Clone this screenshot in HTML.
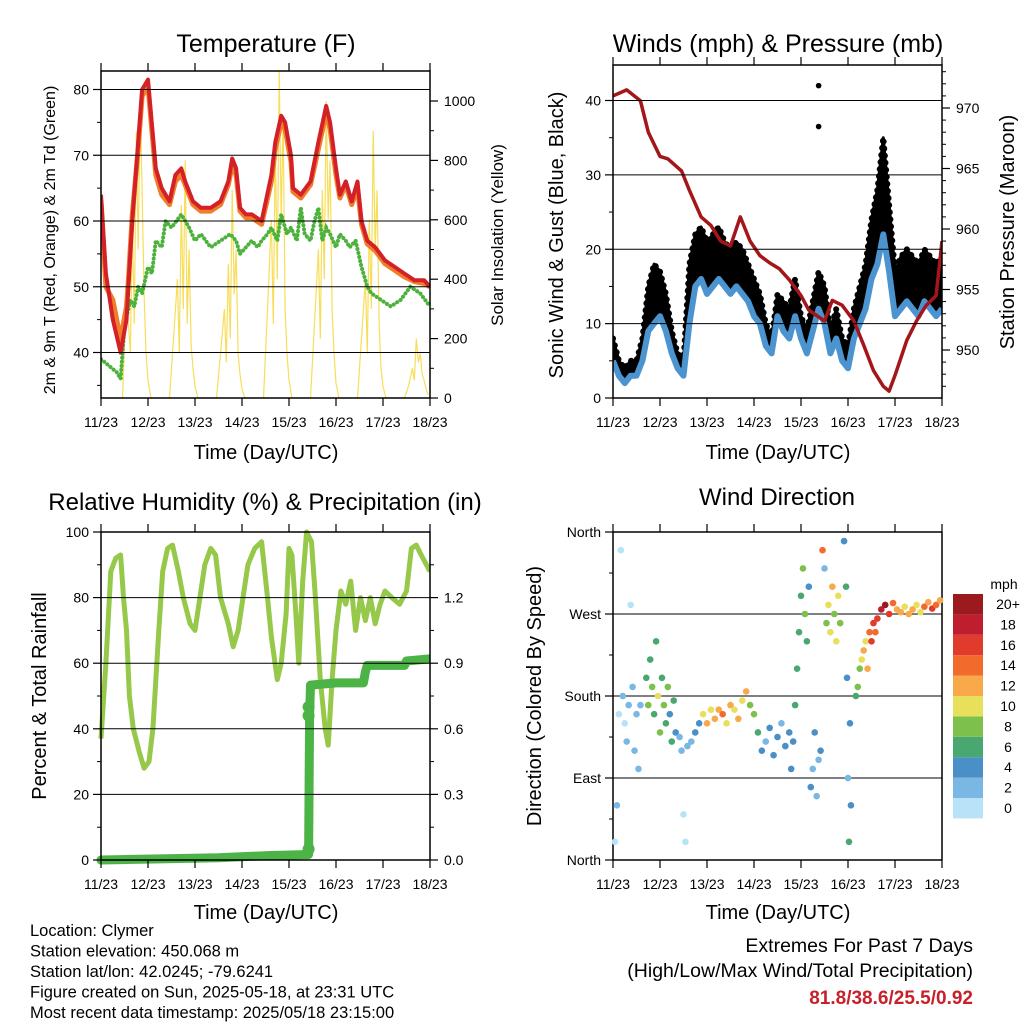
<!DOCTYPE html>
<html><head><meta charset="utf-8"><style>
body{margin:0;background:#fff}
svg{display:block;font-family:"Liberation Sans",sans-serif}
</style></head><body>
<svg id="fig" width="1024" height="1024" viewBox="0 0 1024 1024"></svg>
<script>
// ---------- DATA ----------
const dayLabels=["11/23","12/23","13/23","14/23","15/23","16/23","17/23","18/23"];
const tHours=[0,2.5,6,10,13,14,16,19,21,24,25,28,31,35,38,41,43,47,51,56,61,65,67,69,71,74,77,82,87,89,92,94,97,98,102,107,111,115,117,120,122,125,128,131,133,136,140,145,150,155,160,165,168];
const tRed=[64,52,45,40,45,50,60,72,80,81.5,78,68,65,63,67,68,66,63,62,62,63,66,69.5,68,62,61,61,60,67,72,76,75,70,65,64,66,72,77.5,75,68,64,66,63,66,60,57,56,54,53,52,51,51,50];
const tOrange=[63,50,48,42,47,51,61,71,79,80.5,77,67,64,62.5,66,67,65.5,62.5,61.5,61.5,62.5,65.5,68.5,67,61.5,60.5,60.5,59.5,66,71,75,74,69,64.5,63.5,65.5,71,76.5,74,67,63.5,65.5,62.5,65,59.5,56.5,55.5,53.5,52.5,51.5,50.8,50.5,50];
const tdHours=[0,4,8,10,12,15,17,19,21,24,26,28,31,33,36,41,45,48,51,56,61,66,69,71,74,77,80,82,85,87,90,92,95,97,100,102,104,107,109,111,113,115,117,120,122,125,127,130,133,136,138,143,148,153,158,163,168];
const tdGreen=[39,38,37,36,44,48,47,50,49,53,52,57,56,60,59,61,59,57,58,56,57,58,57,55,56,57,56,57,58,59,57,61,58,59,57,62,58,57,60,62,57,59,58,56,58,57,56,57,53,50,49,48,47,48,50,49,47];
const solHours=[0,11,13,15,16,17,18,19,20,21,22,23,24,25.5,35,37,39,40,41,42,43,44,45,46,47,48,49.5,59,61,63,64,65,66,67,68,69,70,71,72,73.5,83,85,87,88,89,90,91,92,93,94,95,96,97.5,107,109,111,112,113,114,115,116,117,118,119,120,121.5,131,133,135,136,137,138,139,140,141,142,143,144,145.5,155,157,159,160,161,162,163,164,165,166,167,168];
const solVal=[0,0,350,150,600,250,900,500,1000,700,350,150,60,0,0,200,400,150,650,300,800,250,500,180,100,40,0,0,150,300,120,450,200,700,350,500,150,80,30,0,0,300,600,250,850,400,1100,600,950,300,150,60,0,0,250,500,200,700,400,1000,600,800,300,150,50,0,0,200,400,150,600,300,900,500,700,250,100,40,0,0,40,100,60,200,120,150,80,60,30,10];
const wHours=[0,3,6,9,12,15,18,21,24,27,30,33,36,39,42,45,48,51,54,57,60,63,66,69,72,75,78,81,84,87,90,93,96,99,102,105,108,111,114,117,120,123,126,129,132,135,138,141,144,147,150,153,156,159,162,165,168];
const windSpd=[5,3,2,3,3,5,9,10,11,9,6,4,3,10,15,16,14,15,16,15,14,15,14,13,11,10,7,6,11,9,8,11,8,6,9,12,10,6,8,5,4,8,10,12,16,18,22,17,11,12,13,12,11,13,12,11,12];
const gustSpd=[8,5,4,5,5,8,15,18,17,14,9,6,5,18,22,23,21,22,23,21,20,21,20,18,16,14,10,8,14,13,12,16,11,9,13,17,15,9,12,8,7,12,15,18,24,28,35,26,17,19,20,19,18,20,19,18,19];
const gustOutHours=[105,105];
const gustOutVal=[42,36.5];
const pHours=[0,7,14,18,24,28,35,39,45,50,55,60,65,70,75,80,85,90,96,100,108,112,117,123,128,133,138,141,144,150,155,160,165,168];
const pres=[971,971.5,970.6,968,966,965.8,964.8,963.2,961,960.3,959,958.6,961,959,957.8,957.2,956.7,955.8,954.5,953.3,952.4,954.1,953.7,952.4,950.4,948.3,947,946.6,947.9,950.8,952.4,953.7,954.5,959];
const rhHours=[0,2.5,5,7.5,10,11.5,13,14.5,16.5,19.5,22,24.5,26.5,29.5,31.5,34,36.5,39.5,42,45.5,48,50.5,53,56,58.5,61,65,67.5,70,72.5,75,78.5,82,85,87,90,92,94.5,96,97.5,99.5,101,103,105,107.5,109.5,112,114.5,116,118,120,122.5,125,127.5,130,132.5,135,137.5,140,142.5,145,148.5,152.5,156,158.5,161,163.5,168];
const rh=[37,60,88,92,93,80,70,50,40,33,28,30,40,70,88,95,96,88,80,72,70,80,90,95,93,80,72,65,70,80,90,95,97,80,68,55,60,75,95,93,75,60,85,100,97,80,55,40,35,55,70,82,78,85,70,80,73,80,72,78,82,80,78,82,95,96,93,88];
const prHours=[0,30,60,85,106,106.5,107,120,134,135,136,155,156,168];
const precip=[0,0.005,0.01,0.02,0.025,0.66,0.80,0.81,0.81,0.86,0.89,0.89,0.91,0.92];
const prDotHours=[106,106,106];
const prDotVal=[0.05,0.66,0.70];
const dHours=[1,2,3,4,5,6,7,8,9,10,11,12,13,14,17,18,19,20,21,22,23,24,25,26,27,28,29,30,31,32,34,35,36,37,38,40,42,44,46,48,50,52,54,56,58,60,62,64,66,68,70,72,74,76,78,80,82,84,86,88,90,91,92,93,94,95,96,97,98,99,100,101,102,103,104,105,106,107,108,109,110,111,112,113,114,115,116,118,119,119.5,120,120.5,121,121.5,124,125,126,127,128,129,130,131,132,133,134,135,137,139,141,143,145,147,149,151,153,155,157,159,161,163,165,167];
const dDir=[20,60,160,340,180,150,130,170,280,190,120,160,100,170,200,170,220,190,160,240,180,140,200,170,150,190,160,130,175,140,135,120,50,20,125,130,140,150,160,150,165,155,165,160,150,170,165,155,175,185,170,160,140,120,130,145,115,135,150,125,140,100,130,170,210,250,290,320,270,240,300,80,100,140,70,110,120,340,320,260,280,250,300,270,240,290,260,350,300,200,90,20,150,60,180,190,210,220,230,240,210,250,240,260,250,265,275,280,270,282,275,272,278,270,275,280,272,278,283,276,280,285];
const dSpd=[1,2,1,0,2,1,3,2,1,2,3,2,2,3,7,8,6,9,7,6,10,8,7,9,6,8,5,6,7,4,3,2,1,1,3,2,4,5,11,12,10,13,12,14,11,13,10,12,11,12,9,8,6,4,3,4,5,4,3,4,5,4,5,6,7,6,7,8,9,6,5,4,3,4,2,3,4,14,2,9,11,10,12,8,10,11,9,5,6,4,3,6,4,4,7,9,8,11,12,10,13,15,16,17,15,16,18,20,17,14,12,13,11,12,13,10,11,14,13,16,14,12];
const speedBinLabels=["0","2","4","6","8","10","12","14","16","18","20+"];
const speedColors=["#b7e2f7","#7ab8e3","#4a8fc6","#48a870","#7dc14c","#e8e05a","#f8a94a","#f26a2c","#e13b2d","#bf1e2e","#9b1a1e"];

// ---------- HELPERS ----------
const NS="http://www.w3.org/2000/svg";
const svg=document.getElementById('fig');
function mk(tag,attrs,parent){const e=document.createElementNS(NS,tag);for(const k in attrs)e.setAttribute(k,attrs[k]);(parent||svg).appendChild(e);return e;}
function txt(s,x,y,size,anchor,parent,rot,extra){const e=mk('text',{x:x,y:y,'font-size':size,'text-anchor':anchor||'middle',fill:'#000'},parent);if(rot)e.setAttribute('transform','rotate('+rot+' '+x+' '+y+')');if(extra)for(const k in extra)e.setAttribute(k,extra[k]);e.textContent=s;return e;}
function lin(d0,d1,p0,p1){return v=>p0+(v-d0)/(d1-d0)*(p1-p0);}
function pts(xs,ys,fx,fy){return xs.map((h,i)=>fx(h).toFixed(1)+','+fy(ys[i]).toFixed(1)).join(' ');}

function frame(g,x0,x1,y0,y1,fx,yTicks,fy,yLabels,minorY,rTicks,fyR,rLabels,minorR){
  yTicks.forEach(v=>{const y=fy(v);mk('line',{x1:x0,x2:x1,y1:y,y2:y,stroke:'#000','stroke-width':1},g);});
  mk('rect',{x:x0,y:y0,width:x1-x0,height:y1-y0,fill:'none',stroke:'#000','stroke-width':1.5},g);
  for(let d=0;d<=7;d++){const x=fx(d*24);
    mk('line',{x1:x,x2:x,y1:y1,y2:y1+8,stroke:'#000','stroke-width':1.2},g);
    mk('line',{x1:x,x2:x,y1:y0,y2:y0-8,stroke:'#000','stroke-width':1.2},g);
    const t=txt(dayLabels[d],x,y1+29,14,'middle',g);
    }
  yTicks.forEach((v,i)=>{const y=fy(v);mk('line',{x1:x0-8,x2:x0,y1:y,y2:y,stroke:'#000','stroke-width':1.2},g);
    const t=txt(yLabels[i],x0-12,y+5,14,'end',g);});
  (minorY||[]).forEach(v=>{const y=fy(v);mk('line',{x1:x0-4,x2:x0,y1:y,y2:y,stroke:'#000','stroke-width':1},g);});
  if(rTicks){rTicks.forEach((v,i)=>{const y=fyR(v);mk('line',{x1:x1,x2:x1+8,y1:y,y2:y,stroke:'#000','stroke-width':1.2},g);
    const t=txt(rLabels[i],x1+14,y+5,14,'start',g);});
    (minorR||[]).forEach(v=>{const y=fyR(v);mk('line',{x1:x1,x2:x1+4,y1:y,y2:y,stroke:'#000','stroke-width':1},g);});}
}

// ---------- PANEL 1 ----------
{const g=mk('g',{});
 const x0=101,x1=430,y0=71,y1=398;
 const fx=lin(0,168,x0,x1), fy=lin(40,80,352.5,89.5), fr=lin(0,1000,398,101);
 const clip=mk('clipPath',{id:'c1'},g);mk('rect',{x:x0,y:y0,width:x1-x0,height:y1-y0},clip);
 const pg=mk('g',{'clip-path':'url(#c1)'},g);
 const sol=mk('polyline',{points:pts(solHours,solVal,fx,fr),fill:'none',stroke:'#f7de5a','stroke-width':1.2},pg);
 
 const td=mk('polyline',{points:pts(tdHours,tdGreen,fx,fy),fill:'none',stroke:'#4cb23c','stroke-width':4,'stroke-dasharray':'0.1 4','stroke-linecap':'round'},pg);
 
 const o=mk('polyline',{points:pts(tHours,tOrange,fx,fy),fill:'none',stroke:'#f07d2a','stroke-width':5,'stroke-linejoin':'round'},pg);
 
 const r=mk('polyline',{points:pts(tHours,tRed,fx,fy),fill:'none',stroke:'#d42027','stroke-width':4,'stroke-linejoin':'round'},pg);
 
 frame(g,x0,x1,y0,y1,fx,[40,50,60,70,80],fy,["40","50","60","70","80"],[35,45,55,65,75],[0,200,400,600,800,1000],fr,["0","200","400","600","800","1000"],[100,300,500,700,900]);
 const t=txt("Temperature (F)",266,52,25,'middle',g);
 const xt=txt("Time (Day/UTC)",266,459,20,'middle',g);
 const yl=txt("2m & 9m T (Red, Orange) & 2m Td (Green)",55,240,16,'middle',g,-90);
 const yr=txt("Solar Insolation (Yellow)",503,235,17,'middle',g,-90);
}

// ---------- PANEL 2 ----------
{const g=mk('g',{});
 const x0=613,x1=942,y0=65,y1=398;
 const fx=lin(0,168,x0,x1), fy=lin(0,40,398,100.5), fr=lin(950,970,350,108);
 const clip=mk('clipPath',{id:'c2'},g);mk('rect',{x:x0,y:y0,width:x1-x0,height:y1-y0},clip);
 const pg=mk('g',{'clip-path':'url(#c2)'},g);
 const bandPts=pts(wHours,gustSpd,fx,fy)+' '+pts(wHours.slice().reverse(),windSpd.slice().reverse(),fx,fy);
 const band=mk('polygon',{points:bandPts,fill:'#000',stroke:'#000','stroke-width':3,'stroke-linejoin':'round'},pg);
 
 const gl=mk('polyline',{points:pts(wHours,gustSpd,fx,fy),fill:'none',stroke:'#000','stroke-width':6,'stroke-dasharray':'0.1 7','stroke-linecap':'round'},pg);
 
 gustOutHours.forEach((h,i)=>{const c=mk('circle',{cx:fx(h),cy:fy(gustOutVal[i]),r:2.8,fill:'#000'},pg);
   });
 const w=mk('polyline',{points:pts(wHours,windSpd,fx,fy),fill:'none',stroke:'#4b94d0','stroke-width':6,'stroke-linejoin':'round'},pg);
 
 const p=mk('polyline',{points:pts(pHours,pres,fx,fr),fill:'none',stroke:'#a3161a','stroke-width':3.5,'stroke-linejoin':'round'},pg);
 
 frame(g,x0,x1,y0,y1,fx,[0,10,20,30,40],fy,["0","10","20","30","40"],[5,15,25,35],[950,955,960,965,970],fr,["950","955","960","965","970"],[947,948,949,951,952,953,954,956,957,958,959,961,962,963,964,966,967,968,969,971,972,973]);
 const t=txt("Winds (mph) & Pressure (mb)",778,52,25,'middle',g);
 const xt=txt("Time (Day/UTC)",778,459,20,'middle',g);
 const yl=txt("Sonic Wind & Gust (Blue, Black)",563,235,20,'middle',g,-90);
 const yr=txt("Station Pressure (Maroon)",1014,232,20,'middle',g,-90);
}

// ---------- PANEL 3 ----------
{const g=mk('g',{});
 const x0=101,x1=430,y0=532,y1=860;
 const fx=lin(0,168,x0,x1), fy=lin(0,100,860,532), fr=lin(0,1.5,860,532);
 const clip=mk('clipPath',{id:'c3'},g);mk('rect',{x:x0-6,y:y0-6,width:x1-x0+6,height:y1-y0+12},clip);
 const pg=mk('g',{'clip-path':'url(#c3)'},g);
 const r=mk('polyline',{points:pts(rhHours,rh,fx,fy),fill:'none',stroke:'#96c84a','stroke-width':5,'stroke-linejoin':'round'},pg);
 
 const p=mk('polyline',{points:pts(prHours,precip,fx,fr),fill:'none',stroke:'#4cb347','stroke-width':9,'stroke-linejoin':'round','stroke-linecap':'round'},pg);
 
 prDotHours.forEach((h,i)=>{const c=mk('circle',{cx:fx(h),cy:fr(prDotVal[i]),r:6,fill:'#4cb347'},pg);
   });
 frame(g,x0,x1,y0,y1,fx,[0,20,40,60,80,100],fy,["0","20","40","60","80","100"],[10,30,50,70,90],[0,0.3,0.6,0.9,1.2],fr,["0.0","0.3","0.6","0.9","1.2"],[0.15,0.45,0.75,1.05,1.35]);
 const t=txt("Relative Humidity (%) & Precipitation (in)",265,510,24,'middle',g);
 const xt=txt("Time (Day/UTC)",266,919,20,'middle',g);
 const yl=txt("Percent & Total Rainfall",46,696,20,'middle',g,-90);
}

// ---------- PANEL 4 ----------
{const g=mk('g',{});
 const x0=613,x1=942,y0=532,y1=860;
 const fx=lin(0,168,x0,x1), fy=lin(0,360,860,532);
 const dirTicks=[0,90,180,270,360], dirLabels=["North","East","South","West","North"];
 frame(g,x0,x1,y0,y1,fx,dirTicks,fy,dirLabels,[45,135,225,315]);
 const pg=mk('g',{},g);
 dHours.forEach((h,i)=>{const bin=Math.min(10,Math.floor(dSpd[i]/2));
   const c=mk('circle',{cx:fx(h),cy:fy(dDir[i]),r:3.3,fill:speedColors[bin]},pg);
   });
 const t=txt("Wind Direction",777,505,24,'middle',g);
 const xt=txt("Time (Day/UTC)",778,919,20,'middle',g);
 const yl=txt("Direction (Colored By Speed)",541,696,20,'middle',g,-90);
 const cb=mk('g',{});
 const ct=txt("mph",1004,589,14,'middle',cb);
 speedColors.forEach((c,i)=>{const y=798-i*20.4;
   const r=mk('rect',{x:953,y:y,width:30,height:20.4,fill:c},cb);
   
   const l=txt(speedBinLabels[i],1008,y+15,14,'middle',cb);});
}

// ---------- FOOTER ----------
{const g=mk('g',{});
 ["Location: Clymer","Station elevation: 450.068 m","Station lat/lon: 42.0245; -79.6241","Figure created on Sun, 2025-05-18, at 23:31 UTC","Most recent data timestamp: 2025/05/18 23:15:00"].forEach((s,i)=>{
   const t=txt(s,30,936+i*20.5,16.5,'start',g);});
 const e=mk('g',{});
 const a=txt("Extremes For Past 7 Days",973,952,19.5,'end',e);
 const b=txt("(High/Low/Max Wind/Total Precipitation)",973,977,19.5,'end',e);
 const c=txt("81.8/38.6/25.5/0.92",973,1004,19,'end',e,0,{fill:'#c8202a','font-weight':'bold'});
}
</script>
</body></html>
